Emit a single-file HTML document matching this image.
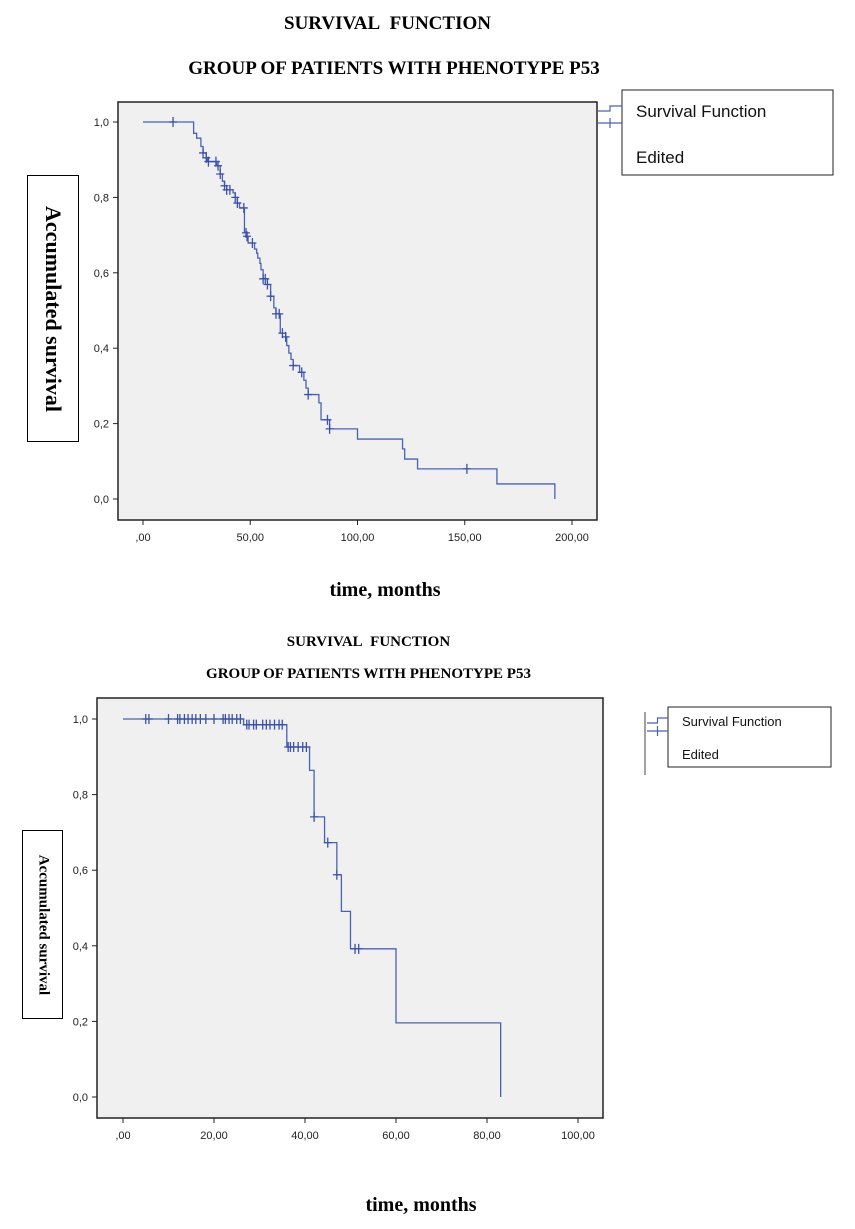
<!DOCTYPE html>
<html><head><meta charset="utf-8">
<style>
html,body{margin:0;padding:0;background:#fff;}
body{width:855px;height:1229px;position:relative;overflow:hidden;font-family:"Liberation Serif",serif;}
svg{position:absolute;left:0;top:0;}
</style></head>
<body>
<svg id="svg" width="855" height="1229"></svg>
<script>
// ---- Chart 1 data ----
const c1StepTimes = [23.6,25,27,28,29.5,30,34.3,36,37,38,39,42,43,44,45,47.3,48.5,49,52,53,53.5,54.5,55,56,58,59.5,61,62,64,66.5,67,68,69,70,73,75,76,77,82,83,87,100,121,122,128,165,192];
const c1StepSurv  = [0.97,0.957,0.935,0.918,0.905,0.895,0.884,0.862,0.843,0.831,0.82,0.812,0.80,0.785,0.772,0.706,0.697,0.679,0.663,0.652,0.639,0.625,0.608,0.584,0.569,0.538,0.507,0.491,0.44,0.43,0.407,0.387,0.37,0.354,0.336,0.315,0.294,0.277,0.255,0.21,0.186,0.159,0.133,0.106,0.08,0.04,0.0];
const c1Censor = [14,28,29.5,30.5,34,35,36,38,39,40.5,43,44,47,48,48.5,51,56,57,58,59.5,62,63.5,65,66.5,70,74,77,86,87,151];
const c1XTicks = [0,50,100,150,200];
const c1XLabels = [",00","50,00","100,00","150,00","200,00"];
const c1YTicks = [0,0.2,0.4,0.6,0.8,1.0];
const c1YLabels = ["0,0","0,2","0,4","0,6","0,8","1,0"];
// ---- Chart 2 data ----
const c2StepTimes = [26.5,36,41,42,44.3,47,48,50,60,83];
const c2StepSurv  = [0.985,0.926,0.864,0.741,0.673,0.588,0.491,0.392,0.196,0.0];
const c2Censor = [5,5.7,10,12,12.5,13.5,14.3,15.2,16,17,18.2,20,22,22.5,23.3,24,25,25.8,27.2,27.7,28.7,29.3,30.7,31.5,32.3,33.3,34.3,35,36.3,36.8,37.5,38.5,39.5,40.3,42,45,47,51,51.8];
const c2XTicks = [0,20,40,60,80,100];
const c2XLabels = [",00","20,00","40,00","60,00","80,00","100,00"];
const c2YTicks = [0,0.2,0.4,0.6,0.8,1.0];
const c2YLabels = ["0,0","0,2","0,4","0,6","0,8","1,0"];

const NS="http://www.w3.org/2000/svg";
const svg=document.getElementById('svg');
function mk(tag,attrs,parent){const e=document.createElementNS(NS,tag);for(const k in attrs)e.setAttribute(k,attrs[k]);(parent||svg).appendChild(e);return e;}
function txt(s,attrs,parent){const e=mk('text',attrs,parent);e.textContent=s;return e;}

function drawChart(o){
  const g=mk('g',{});
  
  
  const sx=t=>o.x0+(t-o.xmin)*(o.x1-o.x0)/(o.xmax-o.xmin);
  const sy=v=>o.y0+(v)*(o.y1-o.y0);
  const bg=mk('rect',{x:o.bx0,y:o.by0,width:o.bx1-o.bx0,height:o.by1-o.by0,fill:'#f0f0f0',stroke:'#222','stroke-width':1.5},g);
  
  
  o.xt.forEach((t,i)=>{
    mk('line',{x1:sx(t),x2:sx(t),y1:o.by1,y2:o.by1+5,stroke:'#222'},g);
    const l=txt(o.xl[i],{x:sx(t),y:o.by1+21,'font-family':'Liberation Sans, sans-serif','font-size':o.fs,'text-anchor':'middle',fill:'#222'},g);
    
    
  });
  o.yt.forEach((v,i)=>{
    mk('line',{x1:o.bx0-5,x2:o.bx0,y1:sy(v),y2:sy(v),stroke:'#222'},g);
    const l=txt(o.yl[i],{x:o.bx0-9,y:sy(v)+4,'font-family':'Liberation Sans, sans-serif','font-size':o.fs,'text-anchor':'end',fill:'#222'},g);
    
    
  });
  let d='M'+sx(0)+','+sy(1);
  o.times.forEach((t,i)=>{d+=' H'+sx(t)+' V'+sy(o.surv[i]);});
  const p=mk('path',{d:d,fill:'none',stroke:'#4a62b4','stroke-width':1.3},g);
  
  
  o.censor.forEach(t=>{
    let s=1;o.times.forEach((tt,i)=>{if(tt<=t)s=o.surv[i];});
    const x=sx(t),y=sy(s);
    const c=mk('path',{d:`M${x-4},${y} H${x+4} M${x},${y-5} V${y+5}`,stroke:'#3c52a8','stroke-width':1.3},g);
    
    
  });
}

drawChart({name:'top-chart',bx0:118,bx1:597,by0:102,by1:520,x0:143,x1:572,xmin:0,xmax:200,y0:499,y1:122,
  times:c1StepTimes,surv:c1StepSurv,censor:c1Censor,xt:c1XTicks,xl:c1XLabels,yt:c1YTicks,yl:c1YLabels,fs:11});
drawChart({name:'bottom-chart',bx0:97,bx1:603,by0:698,by1:1118,x0:123,x1:578,xmin:0,xmax:100,y0:1097,y1:719,
  times:c2StepTimes,surv:c2StepSurv,censor:c2Censor,xt:c2XTicks,xl:c2XLabels,yt:c2YTicks,yl:c2YLabels,fs:11});

function legend(name,bx,by,w,h,fs,l1y,l2y,sym,vline){
  const g=mk('g',{});
  
  
  mk('rect',{x:bx,y:by,width:w,height:h,fill:'#fff',stroke:'#222','stroke-width':1},g);
  txt('Survival Function',{x:bx+14,y:l1y,'font-family':'Liberation Sans, sans-serif','font-size':fs,fill:'#111'},g);
  txt('Edited',{x:bx+14,y:l2y,'font-family':'Liberation Sans, sans-serif','font-size':fs,fill:'#111'},g);
  const s=sym;
  mk('path',{d:`M${s.x},${s.y1} H${s.x+s.w/2} V${s.y1-5} H${s.x+s.w}`,fill:'none',stroke:'#4a62b4','stroke-width':1.2},g);
  mk('path',{d:`M${s.x},${s.y2} H${s.x+s.w} M${s.x+s.w/2},${s.y2-5} V${s.y2+5}`,stroke:'#4a62b4','stroke-width':1.2},g);
  if(vline) mk('line',{x1:vline.x,x2:vline.x,y1:vline.y1,y2:vline.y2,stroke:'#444'},g);
}
legend('top-legend',622,90,211,85,17,117,163,{x:598,w:24,y1:111,y2:123});
legend('bottom-legend',668,707,163,60,13,726,759,{x:647,w:21,y1:723,y2:731},{x:645,y1:712,y2:775});
</script>
<div style="position:absolute;left:0;width:775px;top:13px;text-align:center;font-weight:bold;font-size:19px;">SURVIVAL&nbsp; FUNCTION</div>
<div style="position:absolute;left:0;width:788px;top:58px;text-align:center;font-weight:bold;font-size:19px;">GROUP OF PATIENTS WITH PHENOTYPE P53</div>
<div style="position:absolute;left:27px;top:175px;width:52px;height:267px;border:1px solid #000;box-sizing:border-box;">
  <div style="position:absolute;left:50%;top:50%;transform:translate(-50%,-50%) rotate(90deg);white-space:nowrap;font-weight:bold;font-size:22px;">Accumulated survival</div>
</div>
<div style="position:absolute;left:0;width:770px;top:579px;text-align:center;font-weight:bold;font-size:20px;">time, months</div>
<div style="position:absolute;left:0;width:737px;top:634px;text-align:center;font-weight:bold;font-size:15px;">SURVIVAL&nbsp; FUNCTION</div>
<div style="position:absolute;left:0;width:737px;top:666px;text-align:center;font-weight:bold;font-size:15px;">GROUP OF PATIENTS WITH PHENOTYPE P53</div>
<div style="position:absolute;left:22px;top:830px;width:41px;height:189px;border:1px solid #000;box-sizing:border-box;">
  <div style="position:absolute;left:50%;top:50%;transform:translate(-50%,-50%) rotate(90deg);white-space:nowrap;font-weight:bold;font-size:15px;">Accumulated survival</div>
</div>
<div style="position:absolute;left:0;width:842px;top:1194px;text-align:center;font-weight:bold;font-size:20px;">time, months</div>
</body></html>
